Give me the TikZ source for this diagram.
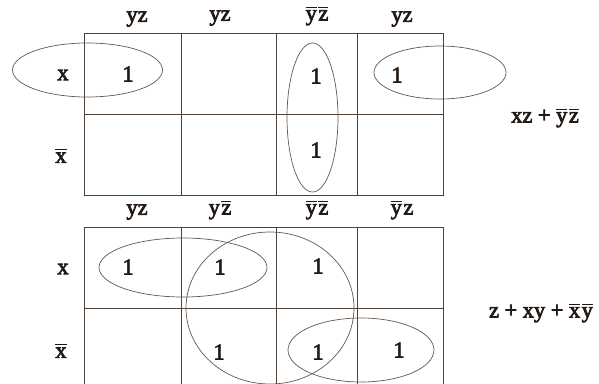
\documentclass[tikz,border=0pt]{standalone}
\usepackage{fontspec}
\setmainfont{Liberation Serif}[BoldFont=Liberation Serif, BoldFeatures={FakeBold=3}]
\newcommand{\ovl}[1]{\vbox{\hrule height 0.9pt\kern2.5pt\hbox{#1}}}
\newcommand{\gapovl}{\kern1.5pt}
\newcommand{\opgap}{\kern5.5pt}

\begin{document}
\begin{tikzpicture}[
    x=1pt, y=-1pt,
    grid/.style={draw={rgb,255:red,80;green,65;blue,55}, line width=0.9pt},
    loop/.style={draw={rgb,255:red,95;green,88;blue,82}, line width=0.7pt},
    lbl/.style={inner sep=0pt, text={rgb,255:red,35;green,25;blue,18}},
    font=\fontsize{22.5}{24}\selectfont\bfseries
]
\useasboundingbox (0,0) rectangle (599,383);
\clip (0,0) rectangle (599,383);

% ---- TOP MAP ----
\draw[grid] (84,33) rectangle (443,195);
\draw[grid] (84,114) -- (443,114);
\draw[grid] (181,33) -- (181,195);
\draw[grid] (276,33) -- (276,195);
\draw[grid] (357,33) -- (357,195);

\node[lbl] (t_c1) at (137,19) {yz};
\node[lbl] (t_c2) at (220,18) {yz};
\node[lbl] (t_c3) at (317,16) {\ovl{y}\gapovl\ovl{z}};
\node[lbl] (t_c4) at (402,19) {yz};

\node[lbl] (t_r1) at (63,75)  {x};
\node[lbl] (t_r2) at (61,156) {\ovl{x}};

\node[lbl] (t_11) at (128,74)  {1};
\node[lbl] (t_13) at (316,76)  {1};
\node[lbl] (t_14) at (397,75)  {1};
\node[lbl] (t_23) at (316,150) {1};

% groups
\draw[loop] (87.5,70) ellipse (75 and 27);
\draw[loop] (312.5,117.5) ellipse (25.5 and 74.5);
\draw[loop] (440,72.5) ellipse (66 and 26.5);

\node[lbl] (t_expr) at (545,118) {xz\opgap+\opgap\ovl{y}\gapovl\ovl{z}};

% ---- BOTTOM MAP ----
\draw[grid] (84,227) rectangle (443,389);
\draw[grid] (84,308) -- (443,308);
\draw[grid] (181,227) -- (181,389);
\draw[grid] (276,227) -- (276,389);
\draw[grid] (357,227) -- (357,389);

\node[lbl] (b_c1) at (137,212) {yz};
\node[lbl] (b_c2) at (220,210) {y\gapovl\ovl{z}};
\node[lbl] (b_c3) at (317,210) {\ovl{y}\gapovl\ovl{z}};
\node[lbl] (b_c4) at (402,210) {\ovl{y}\gapovl z};

\node[lbl] (b_r1) at (63,269)  {x};
\node[lbl] (b_r2) at (61,351) {\ovl{x}};

\node[lbl] (b_11) at (128,267) {1};
\node[lbl] (b_12) at (220,267) {1};
\node[lbl] (b_13) at (318,266) {1};
\node[lbl] (b_22) at (219,352) {1};
\node[lbl] (b_23) at (318,352) {1};
\node[lbl] (b_24) at (399,350) {1};

% groups
\draw[loop] (183,267.5) ellipse (84 and 29.5);
\draw[loop] (270,308) ellipse (84 and 76);
\draw[loop] (361,350) ellipse (73 and 32);

\node[lbl] (b_expr) at (541,313) {z\opgap+\opgap xy\opgap+\opgap\ovl{x}\gapovl\ovl{y}};

\end{tikzpicture}
\end{document}
